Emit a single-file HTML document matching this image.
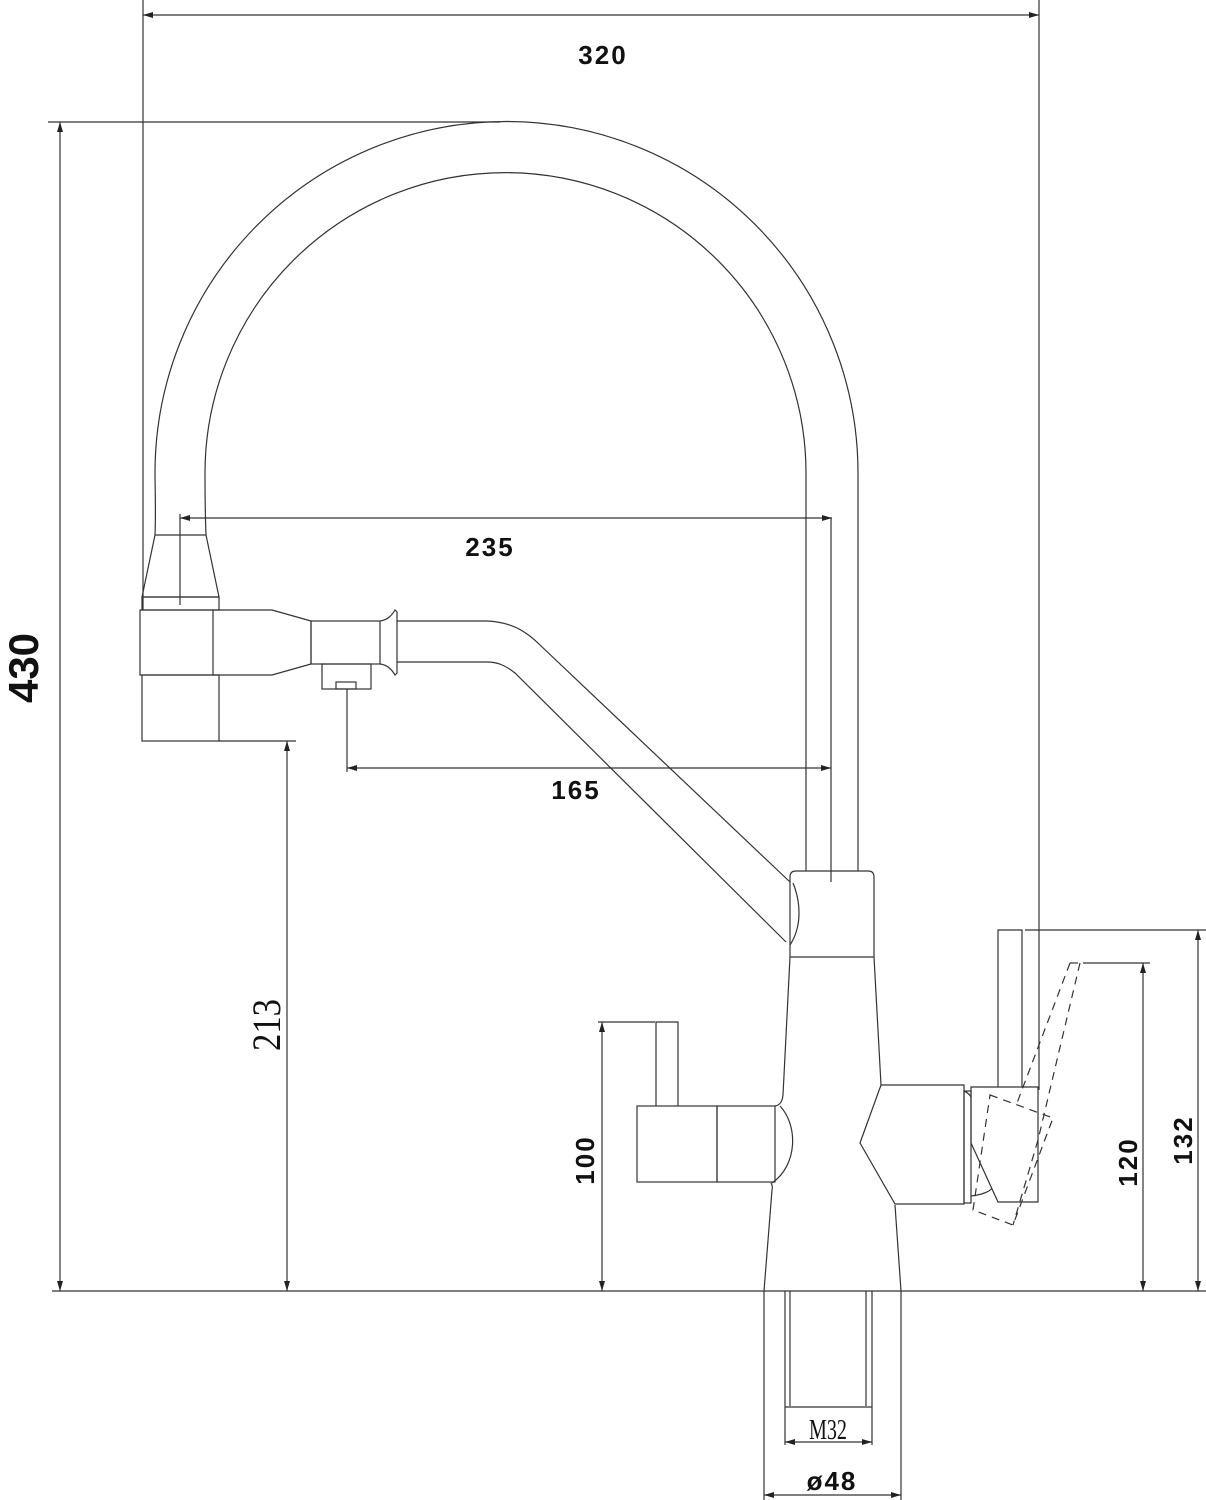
<!DOCTYPE html>
<html><head><meta charset="utf-8"><style>
html,body{margin:0;padding:0;background:#fff;}
svg{display:block;}
.b{font-family:"Liberation Sans",sans-serif;font-weight:bold;fill:#111;}
.s{font-family:"Liberation Serif",serif;fill:#111;}
</style></head><body>
<svg width="1206" height="1500" viewBox="0 0 1206 1500" xmlns="http://www.w3.org/2000/svg">
<defs>
<marker id="a" viewBox="0 0 10 6" refX="10" refY="3" markerWidth="10" markerHeight="6" orient="auto-start-reverse" markerUnits="userSpaceOnUse"><path d="M0,0 L10,3 L0,6 z" fill="#222"/></marker>
</defs>
<g fill="none" stroke="#333" stroke-width="1.2">
<line x1="143" y1="0" x2="143" y2="610"/>
<line x1="1039" y1="0" x2="1039" y2="1090"/>
<line x1="143" y1="15" x2="1039" y2="15" marker-start="url(#a)" marker-end="url(#a)"/>
<line x1="48" y1="122" x2="500" y2="122"/>
<line x1="60" y1="122" x2="60" y2="1291" marker-start="url(#a)" marker-end="url(#a)"/>
<line x1="52" y1="1291" x2="1206" y2="1291"/>
<line x1="180" y1="514" x2="180" y2="605"/>
<line x1="180" y1="518" x2="832" y2="518" marker-start="url(#a)" marker-end="url(#a)"/>
<line x1="831" y1="518" x2="831" y2="882"/>
<line x1="347" y1="689" x2="347" y2="772"/>
<line x1="347" y1="768" x2="831" y2="768" marker-start="url(#a)" marker-end="url(#a)"/>
<line x1="219" y1="741" x2="296" y2="741"/>
<line x1="287" y1="741" x2="287" y2="1291" marker-start="url(#a)" marker-end="url(#a)"/>
<line x1="598" y1="1022" x2="655" y2="1022"/>
<line x1="602" y1="1022" x2="602" y2="1291" marker-start="url(#a)" marker-end="url(#a)"/>
<line x1="1025" y1="930" x2="1206" y2="930"/>
<line x1="1198" y1="930" x2="1198" y2="1291" marker-start="url(#a)" marker-end="url(#a)"/>
<line x1="1083" y1="963" x2="1150" y2="963"/>
<line x1="1143" y1="963" x2="1143" y2="1291" marker-start="url(#a)" marker-end="url(#a)"/>
<path d="M155,535 C156,510 155,490 155,473 A351,351 0 0 1 858,473 L858,871"/>
<path d="M206,535 C205,510 205,490 205,473 A300,300 0 0 1 806,473 L806,871"/>
<path d="M155,535 L206,535 L219,597 L142,597 Z"/>
<rect x="142" y="597" width="77" height="13"/>
<rect x="140" y="610" width="73" height="65"/>
<path d="M213,610 L272,610 L311,621 L311,664 L272,675 L213,675"/>
<rect x="311" y="621" width="69" height="43"/>
<path d="M380,621 C388,620 392,615 395,610 L397,612 L397,673 L395,675 C392,670 388,665 380,664"/>
<rect x="322" y="664" width="49" height="25"/>
<rect x="336" y="682" width="20" height="7"/>
<rect x="142" y="675" width="77" height="66"/>
<path d="M397,621 L487,621 C510,622 525,630 540,645 L790,882"/>
<path d="M397,662 L487,662 C497,662 505,665 515,673 L786,942"/>
<path d="M790,957 L790,877 Q790,871 796,871 L868,871 Q874,871 874,877 L874,957 Z"/>
<path d="M793,883 C800,900 803,925 790,945"/>
<path d="M790,957 L783,1095 Q782,1105 775,1106"/>
<path d="M874,957 L881,1085"/>
<rect x="637" y="1106" width="80" height="76"/>
<rect x="717" y="1106" width="58" height="76"/>
<path d="M780,1106 C798,1125 798,1165 772,1183"/>
<path d="M656,1106 L656,1022 L678,1022 L678,1106"/>
<path d="M771,1183 Q773,1186 772,1190 L764,1291"/>
<path d="M895,1205 L901,1291"/>
<path d="M881,1085 L964,1085 L964,1204 L895,1204 L860,1143 Z"/>
<path d="M964,1091 C967,1092 970,1095 971,1097"/>
<rect x="964" y="1091" width="7" height="112"/>
<path d="M971,1087 L1038,1087 L1038,1202 L998,1202 L971,1143 Z"/>
<path d="M998,1087 L998,930 L1022,930 L1022,1087"/>
<path d="M971,1196 C980,1195 990,1192 992,1188"/>
<g stroke-dasharray="8,6">
<path d="M1070,963 L1080,963"/>
<path d="M1070,963 L1017,1103"/>
<path d="M1080,963 L1038,1140 L1013,1225"/>
<path d="M990,1095 L1053,1118 L1013,1225 L973,1210 Z"/>
</g>
<line x1="764" y1="1291" x2="764" y2="1500"/>
<line x1="901" y1="1291" x2="901" y2="1500"/>
<line x1="785" y1="1291" x2="785" y2="1445"/>
<line x1="790" y1="1291" x2="790" y2="1406"/>
<line x1="866" y1="1291" x2="866" y2="1406"/>
<line x1="872" y1="1291" x2="872" y2="1445"/>
<line x1="785" y1="1407" x2="872" y2="1407"/>
<line x1="785" y1="1442" x2="872" y2="1442" marker-start="url(#a)" marker-end="url(#a)"/>
<line x1="764" y1="1495" x2="901" y2="1495" marker-start="url(#a)" marker-end="url(#a)"/>
</g>
<text class="b" x="603" y="64" font-size="26" text-anchor="middle" letter-spacing="2">320</text>
<text class="b" x="490" y="556" font-size="26" text-anchor="middle" letter-spacing="2">235</text>
<text class="b" x="576" y="799" font-size="26" text-anchor="middle" letter-spacing="2">165</text>
<text class="b" font-size="42" text-anchor="middle" transform="translate(38,668) rotate(-90)">430</text>
<text class="s" font-size="40" text-anchor="middle" transform="translate(280,1025) rotate(-90)" textLength="52" lengthAdjust="spacingAndGlyphs">213</text>
<text class="b" font-size="26" text-anchor="middle" transform="translate(594,1160) rotate(-90)" letter-spacing="2">100</text>
<text class="b" font-size="26" text-anchor="middle" transform="translate(1137,1162) rotate(-90)" letter-spacing="2">120</text>
<text class="b" font-size="26" text-anchor="middle" transform="translate(1192,1140) rotate(-90)" letter-spacing="2">132</text>
<text class="s" x="828" y="1439" font-size="28" text-anchor="middle" textLength="38" lengthAdjust="spacingAndGlyphs">M32</text>
<text class="b" x="832" y="1490" font-size="26" text-anchor="middle" letter-spacing="2">ø48</text>
</svg>
</body></html>
